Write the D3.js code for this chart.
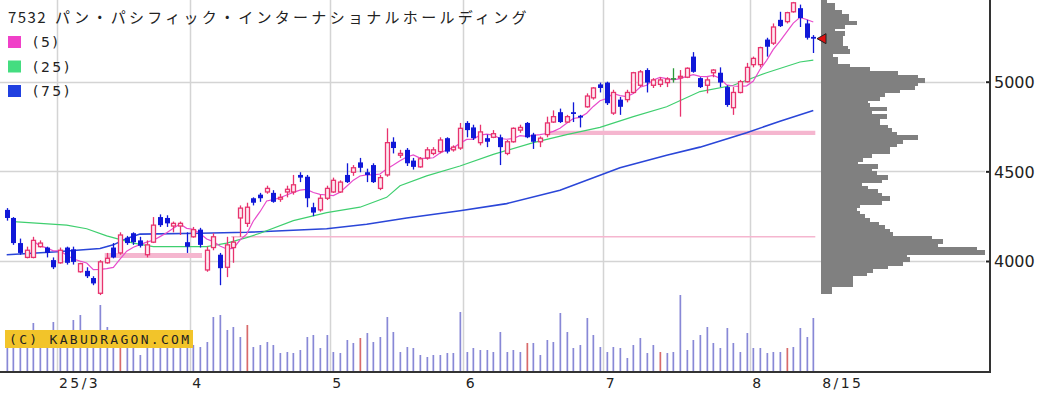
<!DOCTYPE html>
<html>
<head>
<meta charset="utf-8">
<script src="https://cdn.jsdelivr.net/npm/d3@7"></script>
<style>
body{margin:0;background:#fff;}
svg{display:block;}
</style>
</head>
<body>
<div class="visHolder"></div>
<script>
const W=1063,H=398;

const code="7532";
const name="パン・パシフィック・インターナショナルホールディング";
const maNames=["(5)","(25)","(75)"];
const monthLabels=["25/3","4","5","6","7","8","8/15"];
const monthStart=[8,28,49,69,90,112,121];
const priceTicks=[4000,4500,5000];

// daily candles [open, high, low, close]
const ohlc=[
[4285,4295,4225,4240],[4240,4245,4090,4100],[4100,4125,4035,4045],[4020,4080,4015,4060],
[4020,4135,4015,4115],[4080,4115,4075,4100],[4075,4080,4020,4045],[4005,4020,3955,3965],
[3990,4075,3985,4060],[4075,4080,3980,3990],[4065,4080,3980,3995],[3940,3990,3935,3985],
[3945,3965,3905,3915],[3905,3915,3865,3875],[3820,4005,3810,3995],[3990,4045,3985,4015],
[4075,4100,4015,4020],[4045,4160,4035,4145],[4130,4140,4090,4100],[4155,4160,4090,4105],
[4115,4135,4075,4085],[4035,4115,4020,4090],[4105,4245,4100,4200],[4245,4260,4190,4200],
[4240,4255,4190,4210],[4195,4220,4160,4210],[4195,4220,4145,4210],[4105,4160,4045,4080],
[4135,4190,4130,4175],[4175,4185,4075,4090],[3950,4080,3940,4060],[4075,4155,4060,4135],
[4035,4045,3865,3960],[3965,4135,3910,4090],[4075,4135,3990,4105],[4240,4310,4135,4295],
[4210,4325,4190,4300],[4350,4355,4310,4325],[4370,4380,4330,4350],[4385,4420,4375,4405],
[4380,4395,4325,4330],[4345,4375,4330,4355],[4385,4420,4355,4400],[4385,4480,4370,4425],
[4480,4495,4440,4465],[4470,4480,4300,4350],[4300,4325,4250,4270],[4285,4370,4275,4350],
[4350,4420,4340,4405],[4385,4465,4380,4450],[4385,4450,4380,4440],[4480,4545,4435,4440],
[4495,4535,4475,4520],[4550,4575,4495,4520],[4495,4515,4440,4480],[4535,4545,4435,4440],
[4405,4480,4395,4465],[4480,4740,4470,4660],[4665,4690,4600,4630],[4590,4620,4575,4600],
[4620,4630,4530,4545],[4560,4575,4510,4525],[4525,4580,4520,4570],[4575,4635,4565,4620],
[4600,4635,4590,4620],[4610,4690,4600,4675],[4685,4690,4600,4610],[4620,4645,4610,4635],
[4630,4770,4620,4740],[4770,4780,4690,4730],[4745,4760,4675,4685],[4660,4760,4645,4720],
[4685,4705,4635,4665],[4690,4730,4685,4710],[4690,4705,4535,4635],[4600,4675,4590,4665],
[4665,4745,4660,4740],[4730,4760,4715,4745],[4770,4775,4685,4690],[4705,4715,4625,4665],
[4665,4695,4635,4685],[4705,4805,4690,4770],[4775,4840,4770,4805],[4830,4850,4770,4775],
[4775,4815,4770,4805],[4830,4885,4775,4820],[4810,4815,4745,4800],[4860,4935,4855,4920],
[4910,4970,4900,4965],[4985,4995,4940,4965],[4995,5000,4870,4880],[4825,4955,4815,4940],
[4900,4915,4815,4860],[4900,4955,4885,4940],[4940,5055,4935,5050],[4980,5065,4970,5055],
[5065,5075,4940,4995],[4980,5020,4965,5010],[4985,5025,4970,5010],[4995,5025,4970,5015],
[5020,5075,4995,5020],[5025,5065,4805,5030],[5025,5080,5020,5075],[5140,5165,5050,5055],
[5020,5025,4965,4970],[4980,5025,4935,5010],[5050,5070,5025,5065],[5050,5080,4970,4995],
[4970,4980,4860,4870],[4855,4970,4815,4940],[4940,5010,4935,5000],[5000,5105,4995,5080],
[5095,5140,5080,5130],[5095,5195,5080,5190],[5235,5245,5140,5195],[5215,5325,5205,5305],
[5345,5390,5305,5310],[5335,5390,5325,5385],[5390,5445,5385,5440],[5410,5430,5305,5355],
[5325,5345,5235,5245],[5250,5260,5160,5240]
];

const volumes=[310,330,290,350,480,330,310,490,350,330,510,560,360,310,660,440,330,360,310,290,
160,310,350,310,290,270,310,290,260,240,290,540,560,410,440,340,460,240,260,290,
260,180,190,180,210,340,360,230,360,190,180,310,280,330,380,290,340,540,390,190,
240,230,160,140,160,160,180,180,590,190,230,210,210,190,390,190,210,190,280,280,
160,310,290,580,390,230,260,530,360,240,190,240,230,130,260,330,180,260,190,180,
190,760,210,310,360,440,280,230,430,280,190,380,230,230,180,190,190,230,240,430,
340,530];
const redVolDays=[17,36,53,78,98,117];

// moving averages [day, price]
const ma25=[[1,4220],[5,4210],[9,4200],[12,4180],[15,4140],[19,4100],[22,4080],[30,4080],
[33,4100],[36,4130],[38,4155],[43,4225],[48,4270],[53,4300],[57,4355],[59,4420],[63,4475],
[68,4530],[73,4595],[79,4660],[84,4705],[89,4745],[94,4805],[99,4860],[104,4945],[109,4980],
[114,5050],[119,5110],[121,5120]];
const ma75=[[0,4035],[7,4050],[14,4070],[16,4090],[18,4125],[20,4150],[29,4155],[36,4160],
[48,4180],[54,4205],[60,4240],[68,4280],[75,4320],[83,4395],[92,4520],[99,4590],[104,4635],
[111,4715],[116,4780],[121,4840]];

// price-by-volume histogram, 20 yen bins from 3820
const profileVol=[11,11,32,32,32,46,52,67,82,89,86,164,156,117,122,111,72,69,64,58,
49,44,39,36,39,61,69,61,57,47,41,61,67,56,51,57,37,42,51,69,
69,76,82,97,76,71,67,59,59,66,51,66,49,47,59,64,79,94,97,104,
97,77,49,29,17,17,12,29,27,22,22,22,24,14,24,36,28,28,21,14,14,6];
const profileLow=d3.range(profileVol.length).map(k=>3820+k*20);

// support / resistance levels
const levelPrice=[4030,4135,4715];
const levelFrom=[15,34,81];
const levelTo=[29,121,121];
const levelStrength=[3,1,2.6];

const svg=d3.select(".visHolder").append("svg").attr("width",W).attr("height",H);

const x=d3.scaleLinear().domain([0,121]).range([6.7,813.3]);
const y=d3.scaleLinear().domain([4000,5000]).range([261,81.7]);
const vy=d3.scaleLinear().domain([0,1000]).range([371,271]);
const px=d3.scaleLinear().domain([0,200]).range([821,1021]);
const lw=d3.scaleLinear().domain([1,3]).range([1.5,5]);

// grid
svg.append("g").selectAll("line").data(priceTicks).enter().append("line")
  .attr("x1",0).attr("x2",985).attr("y1",d=>Math.round(y(d))+0.5).attr("y2",d=>Math.round(y(d))+0.5)
  .attr("stroke","#d4d4d4").attr("stroke-width",1.5);
svg.append("g").selectAll("line").data(monthStart.slice(0,6)).enter().append("line")
  .attr("x1",d=>Math.round(x(d)-3.33)+0.5).attr("x2",d=>Math.round(x(d)-3.33)+0.5)
  .attr("y1",0).attr("y2",372).attr("stroke","#d4d4d4").attr("stroke-width",1.5);

// volume
svg.append("g").selectAll("rect").data(volumes).enter().append("rect")
  .attr("x",(d,i)=>Math.round(x(i))-0.5).attr("width",1.7)
  .attr("y",d=>vy(d)).attr("height",d=>371-vy(d))
  .attr("fill",(d,i)=>redVolDays.includes(i)?"#d86a6a":"#8888d6");

// levels
svg.append("g").selectAll("line").data(levelPrice).enter().append("line")
  .attr("x1",(d,k)=>x(levelFrom[k])-2).attr("x2",(d,k)=>x(levelTo[k])+2)
  .attr("y1",d=>y(d)).attr("y2",d=>y(d))
  .attr("stroke","#f5b6cf").attr("stroke-width",(d,k)=>lw(levelStrength[k]));

// moving averages
const line=d3.line().x(d=>x(d[0])).y(d=>y(d[1]));
const closes=ohlc.map(d=>d[3]);
const ma5=d3.range(4,ohlc.length).map(i=>[i,d3.mean(closes.slice(i-4,i+1))]);
svg.append("path").datum(ma75).attr("d",line).attr("fill","none").attr("stroke","#2a46d8").attr("stroke-width",1.6);
svg.append("path").datum(ma25).attr("d",line).attr("fill","none").attr("stroke","#3fcf6f").attr("stroke-width",1.2);
svg.append("path").datum(ma5).attr("d",line).attr("fill","none").attr("stroke","#e84ccc").attr("stroke-width",1.2);

// candles
const pink="#e8336e",blue="#1018d8",green="#2a9a3a";
const candles=svg.append("g").selectAll("g").data(ohlc).enter().append("g");
const col=d=>d[3]>d[0]?pink:(d[3]<d[0]?blue:green);
candles.append("line")
  .attr("x1",(d,i)=>Math.round(x(i))+0.5).attr("x2",(d,i)=>Math.round(x(i))+0.5)
  .attr("y1",d=>y(d[1])).attr("y2",d=>y(d[2]))
  .attr("stroke",col).attr("stroke-width",1.3);
candles.append("rect")
  .attr("x",(d,i)=>d[3]>d[0]?Math.round(x(i))-1.5:Math.round(x(i))-2)
  .attr("width",d=>d[3]>d[0]?4:5)
  .attr("y",d=>y(Math.max(d[0],d[3])))
  .attr("height",d=>Math.max(1.5,y(Math.min(d[0],d[3]))-y(Math.max(d[0],d[3]))))
  .attr("fill",d=>d[3]>d[0]?"#fde9f0":col(d))
  .attr("stroke",d=>d[3]>d[0]?pink:"none")
  .attr("stroke-width",1.3);

// price profile
svg.append("g").attr("shape-rendering","crispEdges").selectAll("rect").data(profileVol).enter().append("rect")
  .attr("x",821).attr("width",d=>Math.round(px(d)-821))
  .attr("y",(d,k)=>Math.round(y(profileLow[k]+20)))
  .attr("height",(d,k)=>Math.round(y(profileLow[k]))-Math.round(y(profileLow[k]+20))+1)
  .attr("fill","#808080");

// last price marker
const lastY=y(closes[closes.length-1]);
svg.append("path").attr("d",`M817,${lastY} L826,${lastY-5} L826,${lastY+5} Z`)
  .attr("fill","#e01010").attr("stroke","#222").attr("stroke-width",1);

// axes
const yAxis=d3.axisRight(y).tickValues(priceTicks).tickSizeInner(-4).tickSizeOuter(0).tickPadding(4).tickFormat(d3.format("d"));
const ga=svg.append("g").attr("transform","translate(990,0)").call(yAxis);
ga.select(".domain").remove();
ga.selectAll("line").attr("stroke","#222").attr("stroke-width",2);
ga.selectAll("text").attr("font-family","DejaVu Sans").attr("font-size",16).attr("fill","#222").attr("dy","0.36em");
svg.append("line").attr("x1",990).attr("x2",990).attr("y1",0).attr("y2",373).attr("stroke","#333").attr("stroke-width",2);
svg.append("line").attr("x1",0).attr("x2",991).attr("y1",372).attr("y2",372).attr("stroke","#333").attr("stroke-width",2);

svg.append("g").selectAll("text").data(monthLabels).enter().append("text")
  .attr("x",(d,k)=>k===monthLabels.length-1?x(monthStart[k])+9:x(monthStart[k])-1)
  .attr("y",388).text(d=>d)
  .attr("font-family","DejaVu Sans").attr("font-size",14).attr("letter-spacing",2.4).attr("fill","#222");

// legend
const maColors=["#f040c8","#44dd80","#2040e0"];
const leg=svg.append("g").selectAll("g").data(maNames).enter().append("g")
  .attr("transform",(d,k)=>`translate(8,${36+k*24.5})`);
leg.append("rect").attr("width",13).attr("height",12).attr("fill",(d,k)=>maColors[k]);
leg.append("text").attr("x",25).attr("y",11).text(d=>d)
  .attr("font-family","DejaVu Sans").attr("font-size",14).attr("letter-spacing",2.5).attr("fill","#222");

// title
const t=svg.append("text").attr("x",8).attr("y",23).attr("fill","#222").attr("font-family","Noto Sans CJK JP").attr("font-size",15);
t.append("tspan").text(code).attr("letter-spacing",1.4);
t.append("tspan").attr("x",55).text(name).attr("letter-spacing",3.3);

// watermark
svg.append("rect").attr("x",5).attr("y",330).attr("width",188).attr("height",18).attr("fill","#f2c42a");
svg.append("text").attr("x",9).attr("y",344).text("(C) KABUDRAGON.COM")
  .attr("font-family","DejaVu Sans Mono").attr("font-size",13).attr("letter-spacing",2.3).attr("fill","#222");
</script>
</body>
</html>
